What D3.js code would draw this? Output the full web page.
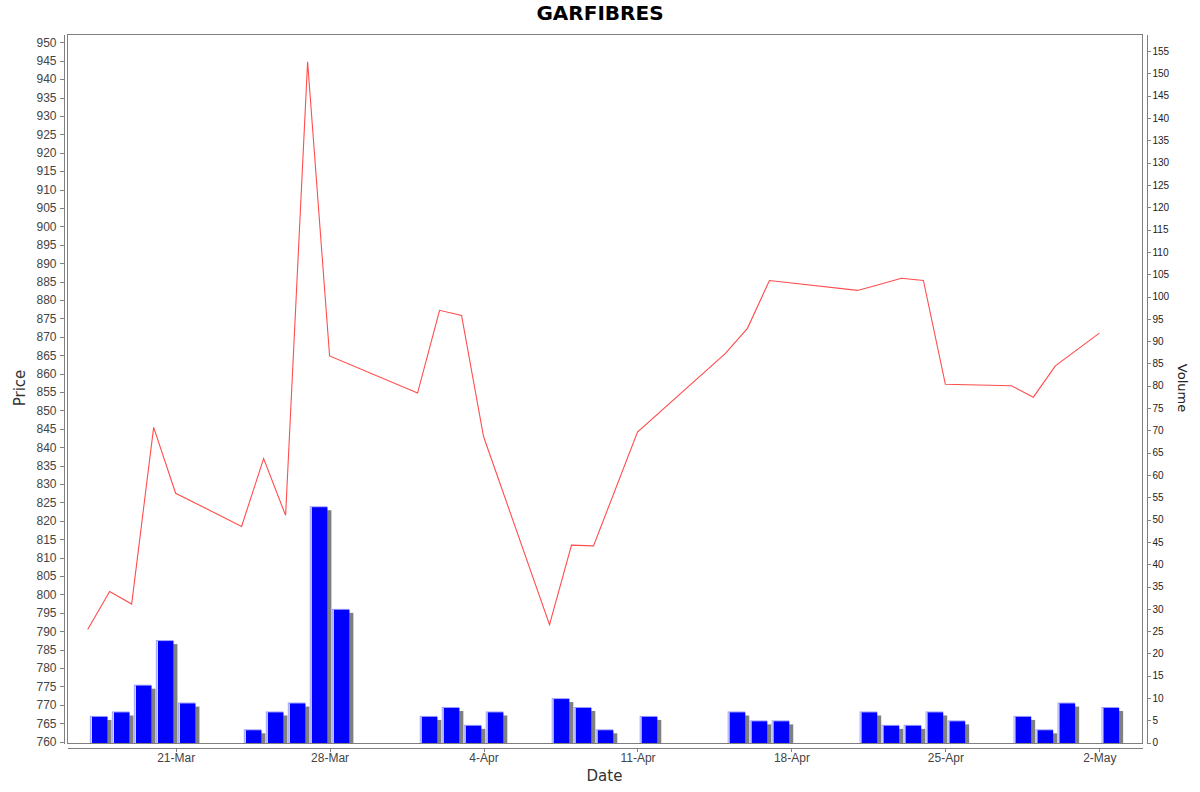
<!DOCTYPE html>
<html>
<head>
<meta charset="utf-8">
<script src="https://cdn.jsdelivr.net/npm/d3@7"></script>
<style>
	body { margin:0; background:#fff; }
	svg { font-family:"DejaVu Sans", sans-serif; }
	.axis path, .axis line { stroke:#808080; shape-rendering:crispEdges; }
</style>
</head>
<body>
<script>
// trading days (volume bars + close price line)
var dates = [
	"2025-03-17","2025-03-18","2025-03-19","2025-03-20","2025-03-21",
	"2025-03-24","2025-03-25","2025-03-26","2025-03-27","2025-03-28",
	"2025-04-01","2025-04-02","2025-04-03","2025-04-04",
	"2025-04-07","2025-04-08","2025-04-09","2025-04-11",
	"2025-04-15","2025-04-16","2025-04-17",
	"2025-04-21","2025-04-22","2025-04-23","2025-04-24","2025-04-25",
	"2025-04-28","2025-04-29","2025-04-30","2025-05-02"
];
var closePrices = [
	790.5, 800.8, 797.4, 845.4, 827.5,
	818.5, 836.9, 821.5, 944.7, 864.8,
	854.7, 877.2, 875.8, 842.9,
	791.8, 813.4, 813.2, 844.1,
	865.5, 872.3, 885.3,
	882.6, 884.2, 885.9, 885.3, 857.1,
	856.7, 853.6, 862.1, 871.0
];
var volumes = [
	6, 7, 13, 23, 9,
	3, 7, 9, 53, 30,
	6, 8, 4, 7,
	10, 8, 3, 6,
	7, 5, 5,
	7, 4, 4, 7, 5,
	6, 3, 9, 8
];
var dateTicks = ["2025-03-21","2025-03-28","2025-04-04","2025-04-11","2025-04-18","2025-04-25","2025-05-02"];
var priceTicks = d3.range(760, 951, 5);
var volumeTicks = d3.range(0, 156, 5);

var W = 1200, H = 792;
var plot = {left:67, right:1142, top:34, bottom:743};
var DAY = 864e5;

var parse = d3.utcParse("%Y-%m-%d");
var rows = dates.map(function(d,i){
	return {date:parse(d), close:closePrices[i], vol:volumes[i]};
});

var svg = d3.select("body").append("svg")
	.attr("width",W)
	.attr("height",H);

//time axis runs from first day start to last day end, with small margins
var t0 = rows[0].date.getTime();
var t1 = rows[rows.length-1].date.getTime() + DAY;
var pad = (t1 - t0) * 0.02;
var x = d3.scaleUtc()
	.domain([new Date(t0 - pad), new Date(t1 + pad)])
	.range([plot.left, plot.right]);
var yPrice = d3.scaleLinear().domain([759.65, 952.26]).range([plot.bottom, plot.top]);
var yVol = d3.scaleLinear().domain([0, 158.85]).range([742.7, plot.top]);

svg.append("clipPath").attr("id","plotClip")
	.append("rect")
	.attr("x",plot.left).attr("y",plot.top)
	.attr("width",plot.right-plot.left).attr("height",plot.bottom-plot.top);

var g = svg.append("g").attr("clip-path","url(#plotClip)");

//volume bars: shadow first, then bar with light edge
var dayW = x(new Date(t0 + DAY)) - x(new Date(t0));
var bars = g.selectAll("g.bar").data(rows).enter().append("g").attr("class","bar");
bars.append("rect")
	.attr("x",function(d){return x(d.date) + dayW*0.1 + 4})
	.attr("y",function(d){return yVol(d.vol) + 4})
	.attr("width",dayW*0.8)
	.attr("height",function(d){return Math.max(0, plot.bottom - yVol(d.vol) - 4)})
	.attr("fill","#808080");
bars.append("rect")
	.attr("x",function(d){return x(d.date) + dayW*0.1})
	.attr("y",function(d){return yVol(d.vol)})
	.attr("width",dayW*0.8)
	.attr("height",function(d){return plot.bottom - yVol(d.vol)})
	.attr("fill","#9d9dff");
bars.append("rect")
	.attr("x",function(d){return x(d.date) + dayW*0.1 + 1})
	.attr("y",function(d){return yVol(d.vol) + 1})
	.attr("width",1)
	.attr("height",function(d){return plot.bottom - yVol(d.vol)})
	.attr("fill","#ffffff");
bars.append("rect")
	.attr("x",function(d){return x(d.date) + dayW*0.1 + 2})
	.attr("y",function(d){return yVol(d.vol) + 1})
	.attr("width",dayW*0.8 - 2)
	.attr("height",function(d){return plot.bottom - yVol(d.vol)})
	.attr("fill","#0000ff");

//close price line
var line = d3.line()
	.x(function(d){return x(d.date)})
	.y(function(d){return yPrice(d.close)});
g.append("path")
	.datum(rows)
	.attr("d",line)
	.attr("fill","none")
	.attr("stroke","#ff4d4d")
	.attr("stroke-width",1.1);

//plot border
svg.append("rect")
	.attr("x",plot.left+0.5).attr("y",plot.top+0.5)
	.attr("width",plot.right-plot.left).attr("height",plot.bottom-plot.top)
	.attr("fill","none").attr("stroke","#808080")
	.style("shape-rendering","crispEdges");

//axes
var leftAxis = svg.append("g").attr("class","axis")
	.attr("transform","translate(63.5,0)")
	.call(d3.axisLeft(yPrice).tickValues(priceTicks).tickSize(4).tickSizeOuter(0).tickPadding(3));
leftAxis.selectAll("text").attr("fill","#444").style("font-size","12px");

var rightAxis = svg.append("g").attr("class","axis")
	.attr("transform","translate(1146.5,0)")
	.call(d3.axisRight(yVol).tickValues(volumeTicks).tickSize(4).tickSizeOuter(0).tickPadding(2));
rightAxis.selectAll("text").attr("fill","#222").style("font-size","10px");

var bottomAxis = svg.append("g").attr("class","axis")
	.attr("transform","translate(0,747.5)")
	.call(d3.axisBottom(x).tickValues(dateTicks.map(parse)).tickFormat(d3.utcFormat("%-d-%b")).tickSize(4).tickSizeOuter(0).tickPadding(2));
bottomAxis.selectAll("text").attr("fill","#444").style("font-size","12px");

//titles
svg.append("text")
	.attr("x",W/2).attr("y",20)
	.attr("text-anchor","middle")
	.style("font-size","20px").style("font-weight","bold")
	.text("GARFIBRES");
svg.append("text")
	.attr("x",(plot.left+plot.right)/2).attr("y",781)
	.attr("text-anchor","middle").attr("fill","#333")
	.style("font-size","15px")
	.text("Date");
svg.append("text")
	.attr("transform","translate(25,388) rotate(-90)")
	.attr("text-anchor","middle").attr("fill","#333")
	.style("font-size","15px")
	.text("Price");
svg.append("text")
	.attr("transform","translate(1178,388) rotate(90)")
	.attr("text-anchor","middle").attr("fill","#222")
	.style("font-size","13px")
	.text("Volume");
</script>
</body>
</html>
